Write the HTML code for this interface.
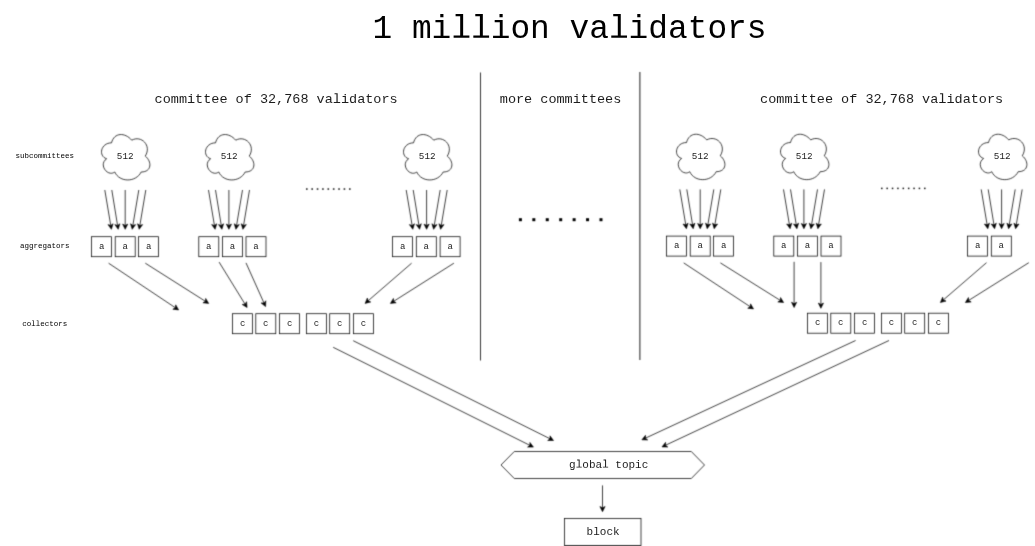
<!DOCTYPE html>
<html><head><meta charset="utf-8"><style>
html,body{margin:0;padding:0;background:#fff;width:1035px;height:546px;overflow:hidden}
svg{display:block;will-change:transform;font-family:"Liberation Mono",monospace}
</style></head><body>
<svg width="1035" height="546" viewBox="0 0 1035 546">
<defs><filter id="soft" x="0" y="0" width="1035" height="546" filterUnits="userSpaceOnUse" color-interpolation-filters="sRGB"><feConvolveMatrix order="3" kernelMatrix="0.0225 0.1050 0.0225 0.1050 0.4900 0.1050 0.0225 0.1050 0.0225" edgeMode="duplicate" preserveAlpha="true"/></filter></defs>
<g filter="url(#soft)">
<rect width="1035" height="546" fill="#fff"/>
<line x1="480.5" y1="72.5" x2="480.5" y2="360.5" stroke="#000" stroke-width="0.8"/>
<line x1="639.9" y1="72" x2="639.9" y2="360" stroke="#000" stroke-width="0.9"/>
<path d="M111.50,142.85C100.70,142.85 98.00,156.10 106.64,158.75C98.00,164.58 107.72,177.30 114.74,172.00C119.60,182.60 135.80,182.60 141.20,172.00C152.00,172.00 152.00,161.40 145.25,156.10C152.00,145.50 141.20,134.90 131.75,140.20C125.00,132.25 114.20,132.25 111.50,142.85Z" fill="none" stroke="#000" stroke-width="0.75"/>
<line x1="104.80" y1="190.00" x2="110.75" y2="225.45" stroke="#000" stroke-width="0.75"/>
<path d="M111.40,229.30L107.97,224.60L110.75,225.45L113.10,223.74Z" fill="#000" stroke="#000" stroke-width="0.6"/>
<line x1="111.80" y1="190.00" x2="117.57" y2="225.45" stroke="#000" stroke-width="0.75"/>
<path d="M118.20,229.30L114.80,224.59L117.57,225.45L119.93,223.75Z" fill="#000" stroke="#000" stroke-width="0.6"/>
<line x1="125.20" y1="190.00" x2="125.20" y2="225.40" stroke="#000" stroke-width="0.75"/>
<path d="M125.20,229.30L122.60,224.10L125.20,225.40L127.80,224.10Z" fill="#000" stroke="#000" stroke-width="0.6"/>
<line x1="138.80" y1="190.00" x2="132.85" y2="225.45" stroke="#000" stroke-width="0.75"/>
<path d="M132.20,229.30L130.50,223.74L132.85,225.45L135.63,224.60Z" fill="#000" stroke="#000" stroke-width="0.6"/>
<line x1="145.80" y1="190.00" x2="139.85" y2="225.45" stroke="#000" stroke-width="0.75"/>
<path d="M139.20,229.30L137.50,223.74L139.85,225.45L142.63,224.60Z" fill="#000" stroke="#000" stroke-width="0.6"/>
<rect x="91.60" y="236.70" width="20" height="20" fill="none" stroke="#000" stroke-width="0.75"/>
<rect x="115.20" y="236.70" width="20" height="20" fill="none" stroke="#000" stroke-width="0.75"/>
<rect x="138.60" y="236.70" width="20" height="20" fill="none" stroke="#000" stroke-width="0.75"/>
<path d="M215.50,142.85C204.70,142.85 202.00,156.10 210.64,158.75C202.00,164.58 211.72,177.30 218.74,172.00C223.60,182.60 239.80,182.60 245.20,172.00C256.00,172.00 256.00,161.40 249.25,156.10C256.00,145.50 245.20,134.90 235.75,140.20C229.00,132.25 218.20,132.25 215.50,142.85Z" fill="none" stroke="#000" stroke-width="0.75"/>
<line x1="208.50" y1="190.00" x2="214.45" y2="225.45" stroke="#000" stroke-width="0.75"/>
<path d="M215.10,229.30L211.67,224.60L214.45,225.45L216.80,223.74Z" fill="#000" stroke="#000" stroke-width="0.6"/>
<line x1="215.50" y1="190.00" x2="221.27" y2="225.45" stroke="#000" stroke-width="0.75"/>
<path d="M221.90,229.30L218.50,224.59L221.27,225.45L223.63,223.75Z" fill="#000" stroke="#000" stroke-width="0.6"/>
<line x1="228.90" y1="190.00" x2="228.90" y2="225.40" stroke="#000" stroke-width="0.75"/>
<path d="M228.90,229.30L226.30,224.10L228.90,225.40L231.50,224.10Z" fill="#000" stroke="#000" stroke-width="0.6"/>
<line x1="242.50" y1="190.00" x2="236.55" y2="225.45" stroke="#000" stroke-width="0.75"/>
<path d="M235.90,229.30L234.20,223.74L236.55,225.45L239.33,224.60Z" fill="#000" stroke="#000" stroke-width="0.6"/>
<line x1="249.50" y1="190.00" x2="243.55" y2="225.45" stroke="#000" stroke-width="0.75"/>
<path d="M242.90,229.30L241.20,223.74L243.55,225.45L246.33,224.60Z" fill="#000" stroke="#000" stroke-width="0.6"/>
<rect x="198.80" y="236.70" width="20" height="20" fill="none" stroke="#000" stroke-width="0.75"/>
<rect x="222.40" y="236.70" width="20" height="20" fill="none" stroke="#000" stroke-width="0.75"/>
<rect x="246.00" y="236.70" width="20" height="20" fill="none" stroke="#000" stroke-width="0.75"/>
<path d="M413.50,142.85C402.70,142.85 400.00,156.10 408.64,158.75C400.00,164.58 409.72,177.30 416.74,172.00C421.60,182.60 437.80,182.60 443.20,172.00C454.00,172.00 454.00,161.40 447.25,156.10C454.00,145.50 443.20,134.90 433.75,140.20C427.00,132.25 416.20,132.25 413.50,142.85Z" fill="none" stroke="#000" stroke-width="0.75"/>
<line x1="406.20" y1="190.00" x2="412.15" y2="225.45" stroke="#000" stroke-width="0.75"/>
<path d="M412.80,229.30L409.37,224.60L412.15,225.45L414.50,223.74Z" fill="#000" stroke="#000" stroke-width="0.6"/>
<line x1="413.20" y1="190.00" x2="418.97" y2="225.45" stroke="#000" stroke-width="0.75"/>
<path d="M419.60,229.30L416.20,224.59L418.97,225.45L421.33,223.75Z" fill="#000" stroke="#000" stroke-width="0.6"/>
<line x1="426.60" y1="190.00" x2="426.60" y2="225.40" stroke="#000" stroke-width="0.75"/>
<path d="M426.60,229.30L424.00,224.10L426.60,225.40L429.20,224.10Z" fill="#000" stroke="#000" stroke-width="0.6"/>
<line x1="440.20" y1="190.00" x2="434.25" y2="225.45" stroke="#000" stroke-width="0.75"/>
<path d="M433.60,229.30L431.90,223.74L434.25,225.45L437.03,224.60Z" fill="#000" stroke="#000" stroke-width="0.6"/>
<line x1="447.20" y1="190.00" x2="441.25" y2="225.45" stroke="#000" stroke-width="0.75"/>
<path d="M440.60,229.30L438.90,223.74L441.25,225.45L444.03,224.60Z" fill="#000" stroke="#000" stroke-width="0.6"/>
<rect x="392.60" y="236.70" width="20" height="20" fill="none" stroke="#000" stroke-width="0.75"/>
<rect x="416.30" y="236.70" width="20" height="20" fill="none" stroke="#000" stroke-width="0.75"/>
<rect x="440.10" y="236.70" width="20" height="20" fill="none" stroke="#000" stroke-width="0.75"/>
<path d="M686.50,142.55C675.70,142.55 673.00,155.80 681.64,158.45C673.00,164.28 682.72,177.00 689.74,171.70C694.60,182.30 710.80,182.30 716.20,171.70C727.00,171.70 727.00,161.10 720.25,155.80C727.00,145.20 716.20,134.60 706.75,139.90C700.00,131.95 689.20,131.95 686.50,142.55Z" fill="none" stroke="#000" stroke-width="0.75"/>
<line x1="679.80" y1="189.40" x2="685.75" y2="224.85" stroke="#000" stroke-width="0.75"/>
<path d="M686.40,228.70L682.97,224.00L685.75,224.85L688.10,223.14Z" fill="#000" stroke="#000" stroke-width="0.6"/>
<line x1="686.80" y1="189.40" x2="692.57" y2="224.85" stroke="#000" stroke-width="0.75"/>
<path d="M693.20,228.70L689.80,223.99L692.57,224.85L694.93,223.15Z" fill="#000" stroke="#000" stroke-width="0.6"/>
<line x1="700.20" y1="189.40" x2="700.20" y2="224.80" stroke="#000" stroke-width="0.75"/>
<path d="M700.20,228.70L697.60,223.50L700.20,224.80L702.80,223.50Z" fill="#000" stroke="#000" stroke-width="0.6"/>
<line x1="713.80" y1="189.40" x2="707.85" y2="224.85" stroke="#000" stroke-width="0.75"/>
<path d="M707.20,228.70L705.50,223.14L707.85,224.85L710.63,224.00Z" fill="#000" stroke="#000" stroke-width="0.6"/>
<line x1="720.80" y1="189.40" x2="714.85" y2="224.85" stroke="#000" stroke-width="0.75"/>
<path d="M714.20,228.70L712.50,223.14L714.85,224.85L717.63,224.00Z" fill="#000" stroke="#000" stroke-width="0.6"/>
<rect x="666.60" y="236.10" width="20" height="20" fill="none" stroke="#000" stroke-width="0.75"/>
<rect x="690.20" y="236.10" width="20" height="20" fill="none" stroke="#000" stroke-width="0.75"/>
<rect x="713.60" y="236.10" width="20" height="20" fill="none" stroke="#000" stroke-width="0.75"/>
<path d="M790.50,142.55C779.70,142.55 777.00,155.80 785.64,158.45C777.00,164.28 786.72,177.00 793.74,171.70C798.60,182.30 814.80,182.30 820.20,171.70C831.00,171.70 831.00,161.10 824.25,155.80C831.00,145.20 820.20,134.60 810.75,139.90C804.00,131.95 793.20,131.95 790.50,142.55Z" fill="none" stroke="#000" stroke-width="0.75"/>
<line x1="783.50" y1="189.40" x2="789.45" y2="224.85" stroke="#000" stroke-width="0.75"/>
<path d="M790.10,228.70L786.67,224.00L789.45,224.85L791.80,223.14Z" fill="#000" stroke="#000" stroke-width="0.6"/>
<line x1="790.50" y1="189.40" x2="796.27" y2="224.85" stroke="#000" stroke-width="0.75"/>
<path d="M796.90,228.70L793.50,223.99L796.27,224.85L798.63,223.15Z" fill="#000" stroke="#000" stroke-width="0.6"/>
<line x1="803.90" y1="189.40" x2="803.90" y2="224.80" stroke="#000" stroke-width="0.75"/>
<path d="M803.90,228.70L801.30,223.50L803.90,224.80L806.50,223.50Z" fill="#000" stroke="#000" stroke-width="0.6"/>
<line x1="817.50" y1="189.40" x2="811.55" y2="224.85" stroke="#000" stroke-width="0.75"/>
<path d="M810.90,228.70L809.20,223.14L811.55,224.85L814.33,224.00Z" fill="#000" stroke="#000" stroke-width="0.6"/>
<line x1="824.50" y1="189.40" x2="818.55" y2="224.85" stroke="#000" stroke-width="0.75"/>
<path d="M817.90,228.70L816.20,223.14L818.55,224.85L821.33,224.00Z" fill="#000" stroke="#000" stroke-width="0.6"/>
<rect x="773.80" y="236.10" width="20" height="20" fill="none" stroke="#000" stroke-width="0.75"/>
<rect x="797.40" y="236.10" width="20" height="20" fill="none" stroke="#000" stroke-width="0.75"/>
<rect x="821.00" y="236.10" width="20" height="20" fill="none" stroke="#000" stroke-width="0.75"/>
<path d="M988.50,142.55C977.70,142.55 975.00,155.80 983.64,158.45C975.00,164.28 984.72,177.00 991.74,171.70C996.60,182.30 1012.80,182.30 1018.20,171.70C1029.00,171.70 1029.00,161.10 1022.25,155.80C1029.00,145.20 1018.20,134.60 1008.75,139.90C1002.00,131.95 991.20,131.95 988.50,142.55Z" fill="none" stroke="#000" stroke-width="0.75"/>
<line x1="981.20" y1="189.40" x2="987.15" y2="224.85" stroke="#000" stroke-width="0.75"/>
<path d="M987.80,228.70L984.37,224.00L987.15,224.85L989.50,223.14Z" fill="#000" stroke="#000" stroke-width="0.6"/>
<line x1="988.20" y1="189.40" x2="993.97" y2="224.85" stroke="#000" stroke-width="0.75"/>
<path d="M994.60,228.70L991.20,223.99L993.97,224.85L996.33,223.15Z" fill="#000" stroke="#000" stroke-width="0.6"/>
<line x1="1001.60" y1="189.40" x2="1001.60" y2="224.80" stroke="#000" stroke-width="0.75"/>
<path d="M1001.60,228.70L999.00,223.50L1001.60,224.80L1004.20,223.50Z" fill="#000" stroke="#000" stroke-width="0.6"/>
<line x1="1015.20" y1="189.40" x2="1009.25" y2="224.85" stroke="#000" stroke-width="0.75"/>
<path d="M1008.60,228.70L1006.90,223.14L1009.25,224.85L1012.03,224.00Z" fill="#000" stroke="#000" stroke-width="0.6"/>
<line x1="1022.20" y1="189.40" x2="1016.25" y2="224.85" stroke="#000" stroke-width="0.75"/>
<path d="M1015.60,228.70L1013.90,223.14L1016.25,224.85L1019.03,224.00Z" fill="#000" stroke="#000" stroke-width="0.6"/>
<rect x="967.60" y="236.10" width="20" height="20" fill="none" stroke="#000" stroke-width="0.75"/>
<rect x="991.30" y="236.10" width="20" height="20" fill="none" stroke="#000" stroke-width="0.75"/>
<rect x="306.00" y="188.25" width="1.6" height="1.6" fill="#222"/>
<rect x="311.38" y="188.25" width="1.6" height="1.6" fill="#222"/>
<rect x="316.75" y="188.25" width="1.6" height="1.6" fill="#222"/>
<rect x="322.12" y="188.25" width="1.6" height="1.6" fill="#222"/>
<rect x="327.50" y="188.25" width="1.6" height="1.6" fill="#222"/>
<rect x="332.88" y="188.25" width="1.6" height="1.6" fill="#222"/>
<rect x="338.25" y="188.25" width="1.6" height="1.6" fill="#222"/>
<rect x="343.62" y="188.25" width="1.6" height="1.6" fill="#222"/>
<rect x="349.00" y="188.25" width="1.6" height="1.6" fill="#222"/>
<rect x="881.05" y="187.65" width="1.5" height="1.5" fill="#111"/>
<rect x="886.42" y="187.65" width="1.5" height="1.5" fill="#111"/>
<rect x="891.80" y="187.65" width="1.5" height="1.5" fill="#111"/>
<rect x="897.17" y="187.65" width="1.5" height="1.5" fill="#111"/>
<rect x="902.55" y="187.65" width="1.5" height="1.5" fill="#111"/>
<rect x="907.92" y="187.65" width="1.5" height="1.5" fill="#111"/>
<rect x="913.30" y="187.65" width="1.5" height="1.5" fill="#111"/>
<rect x="918.67" y="187.65" width="1.5" height="1.5" fill="#111"/>
<rect x="924.05" y="187.65" width="1.5" height="1.5" fill="#111"/>
<rect x="518.90" y="218.20" width="3" height="3" fill="#000"/>
<rect x="532.33" y="218.20" width="3" height="3" fill="#000"/>
<rect x="545.76" y="218.20" width="3" height="3" fill="#000"/>
<rect x="559.19" y="218.20" width="3" height="3" fill="#000"/>
<rect x="572.62" y="218.20" width="3" height="3" fill="#000"/>
<rect x="586.05" y="218.20" width="3" height="3" fill="#000"/>
<rect x="599.48" y="218.20" width="3" height="3" fill="#000"/>
<line x1="108.60" y1="263.20" x2="175.36" y2="307.74" stroke="#000" stroke-width="0.75"/>
<path d="M178.60,309.90L172.83,309.18L175.36,307.74L175.72,304.85Z" fill="#000" stroke="#000" stroke-width="0.6"/>
<line x1="145.30" y1="263.20" x2="205.41" y2="301.31" stroke="#000" stroke-width="0.75"/>
<path d="M208.70,303.40L202.92,302.81L205.41,301.31L205.70,298.42Z" fill="#000" stroke="#000" stroke-width="0.6"/>
<line x1="219.10" y1="262.10" x2="245.05" y2="304.18" stroke="#000" stroke-width="0.75"/>
<path d="M247.10,307.50L242.16,304.44L245.05,304.18L246.58,301.71Z" fill="#000" stroke="#000" stroke-width="0.6"/>
<line x1="246.00" y1="262.90" x2="264.00" y2="303.04" stroke="#000" stroke-width="0.75"/>
<path d="M265.60,306.60L261.10,302.92L264.00,303.04L265.84,300.79Z" fill="#000" stroke="#000" stroke-width="0.6"/>
<line x1="411.60" y1="263.20" x2="368.05" y2="300.85" stroke="#000" stroke-width="0.75"/>
<path d="M365.10,303.40L367.33,298.03L368.05,300.85L370.73,301.97Z" fill="#000" stroke="#000" stroke-width="0.6"/>
<line x1="453.90" y1="263.20" x2="393.70" y2="301.31" stroke="#000" stroke-width="0.75"/>
<path d="M390.40,303.40L393.40,298.42L393.70,301.31L396.18,302.82Z" fill="#000" stroke="#000" stroke-width="0.6"/>
<line x1="683.70" y1="262.90" x2="750.24" y2="306.75" stroke="#000" stroke-width="0.75"/>
<path d="M753.50,308.90L747.73,308.21L750.24,306.75L750.59,303.87Z" fill="#000" stroke="#000" stroke-width="0.6"/>
<line x1="720.40" y1="262.90" x2="780.30" y2="300.43" stroke="#000" stroke-width="0.75"/>
<path d="M783.60,302.50L777.81,301.94L780.30,300.43L780.57,297.54Z" fill="#000" stroke="#000" stroke-width="0.6"/>
<line x1="794.10" y1="261.80" x2="794.10" y2="303.60" stroke="#000" stroke-width="0.75"/>
<path d="M794.10,307.50L791.50,302.30L794.10,303.60L796.70,302.30Z" fill="#000" stroke="#000" stroke-width="0.6"/>
<line x1="820.90" y1="262.10" x2="820.90" y2="304.40" stroke="#000" stroke-width="0.75"/>
<path d="M820.90,308.30L818.30,303.10L820.90,304.40L823.50,303.10Z" fill="#000" stroke="#000" stroke-width="0.6"/>
<line x1="986.50" y1="262.70" x2="943.35" y2="299.95" stroke="#000" stroke-width="0.75"/>
<path d="M940.40,302.50L942.64,297.13L943.35,299.95L946.04,301.07Z" fill="#000" stroke="#000" stroke-width="0.6"/>
<line x1="1028.80" y1="262.70" x2="968.70" y2="300.43" stroke="#000" stroke-width="0.75"/>
<path d="M965.40,302.50L968.42,297.53L968.70,300.43L971.19,301.94Z" fill="#000" stroke="#000" stroke-width="0.6"/>
<rect x="232.60" y="313.70" width="20" height="20" fill="none" stroke="#000" stroke-width="0.75"/>
<rect x="255.80" y="313.70" width="20" height="20" fill="none" stroke="#000" stroke-width="0.75"/>
<rect x="279.60" y="313.70" width="20" height="20" fill="none" stroke="#000" stroke-width="0.75"/>
<rect x="306.50" y="313.70" width="20" height="20" fill="none" stroke="#000" stroke-width="0.75"/>
<rect x="329.70" y="313.70" width="20" height="20" fill="none" stroke="#000" stroke-width="0.75"/>
<rect x="353.40" y="313.70" width="20" height="20" fill="none" stroke="#000" stroke-width="0.75"/>
<rect x="807.60" y="313.20" width="20" height="20" fill="none" stroke="#000" stroke-width="0.75"/>
<rect x="830.80" y="313.20" width="20" height="20" fill="none" stroke="#000" stroke-width="0.75"/>
<rect x="854.60" y="313.20" width="20" height="20" fill="none" stroke="#000" stroke-width="0.75"/>
<rect x="881.50" y="313.20" width="20" height="20" fill="none" stroke="#000" stroke-width="0.75"/>
<rect x="904.70" y="313.20" width="20" height="20" fill="none" stroke="#000" stroke-width="0.75"/>
<rect x="928.40" y="313.20" width="20" height="20" fill="none" stroke="#000" stroke-width="0.75"/>
<line x1="333.20" y1="347.30" x2="529.91" y2="445.36" stroke="#000" stroke-width="0.75"/>
<path d="M533.40,447.10L527.59,447.11L529.91,445.36L529.91,442.45Z" fill="#000" stroke="#000" stroke-width="0.6"/>
<line x1="353.20" y1="340.70" x2="550.01" y2="438.76" stroke="#000" stroke-width="0.75"/>
<path d="M553.50,440.50L547.69,440.51L550.01,438.76L550.01,435.85Z" fill="#000" stroke="#000" stroke-width="0.6"/>
<line x1="855.60" y1="340.50" x2="645.44" y2="438.16" stroke="#000" stroke-width="0.75"/>
<path d="M641.90,439.80L645.52,435.25L645.44,438.16L647.71,439.97Z" fill="#000" stroke="#000" stroke-width="0.6"/>
<line x1="889.00" y1="340.50" x2="665.53" y2="445.24" stroke="#000" stroke-width="0.75"/>
<path d="M662.00,446.90L665.60,442.34L665.53,445.24L667.81,447.05Z" fill="#000" stroke="#000" stroke-width="0.6"/>
<path d="M501,465L514.3,451.5L691.3,451.5L704.5,465L691.3,478.5L514.3,478.5Z" fill="none" stroke="#000" stroke-width="0.75"/>
<line x1="602.50" y1="485.40" x2="602.50" y2="507.80" stroke="#000" stroke-width="0.75"/>
<path d="M602.50,511.70L599.90,506.50L602.50,507.80L605.10,506.50Z" fill="#000" stroke="#000" stroke-width="0.6"/>
<rect x="564.5" y="518.6" width="76.5" height="26.9" fill="none" stroke="#000" stroke-width="0.75"/>
</g>
<g>
<text x="372.50" y="37.70" font-size="32.84" fill="#000"  xml:space="preserve">1 mi  ion va idators</text>
<path d="M455.59,13.89L463.14,13.89L463.14,35.40L469.38,35.40L469.38,37.70L453.61,37.70L453.61,35.40L460.18,35.40L460.18,16.19L455.59,16.19Z" fill="#000"/>
<path d="M475.29,13.89L482.84,13.89L482.84,35.40L489.08,35.40L489.08,37.70L473.32,37.70L473.32,35.40L479.89,35.40L479.89,16.19L475.29,16.19Z" fill="#000"/>
<path d="M613.22,13.89L620.77,13.89L620.77,35.40L627.01,35.40L627.01,37.70L611.25,37.70L611.25,35.40L617.81,35.40L617.81,16.19L613.22,16.19Z" fill="#000"/>
<text x="154.60" y="103.00" font-size="13.5" fill="#1c1c1c"  xml:space="preserve">committee of 32,768 va idators</text>
<path d="M334.55,93.21L337.66,93.21L337.66,102.06L340.22,102.06L340.22,103.00L333.74,103.00L333.74,102.06L336.44,102.06L336.44,94.16L334.55,94.16Z" fill="#1c1c1c"/>
<text x="499.80" y="103.00" font-size="13.5" fill="#1c1c1c" >more committees</text>
<text x="760.10" y="103.00" font-size="13.5" fill="#1c1c1c"  xml:space="preserve">committee of 32,768 va idators</text>
<path d="M940.05,93.21L943.16,93.21L943.16,102.06L945.72,102.06L945.72,103.00L939.25,103.00L939.25,102.06L941.94,102.06L941.94,94.16L940.05,94.16Z" fill="#1c1c1c"/>
<text x="15.45" y="158.00" font-size="7.5" fill="#000" >subcommittees</text>
<text x="19.95" y="248.00" font-size="7.5" fill="#000" >aggregators</text>
<text x="22.20" y="326.00" font-size="7.5" fill="#000"  xml:space="preserve">co  ectors</text>
<path d="M32.18,320.56L33.90,320.56L33.90,325.48L35.33,325.48L35.33,326.00L31.73,326.00L31.73,325.48L33.23,325.48L33.23,321.09L32.18,321.09Z" fill="#000"/>
<path d="M36.68,320.56L38.40,320.56L38.40,325.48L39.83,325.48L39.83,326.00L36.23,326.00L36.23,325.48L37.73,325.48L37.73,321.09L36.68,321.09Z" fill="#000"/>
<text x="116.83" y="158.80" font-size="9.3" fill="#1c1c1c" >512</text>
<text x="98.90" y="249.00" font-size="9" fill="#1c1c1c" >a</text>
<text x="122.50" y="249.00" font-size="9" fill="#1c1c1c" >a</text>
<text x="145.90" y="249.00" font-size="9" fill="#1c1c1c" >a</text>
<text x="220.83" y="158.80" font-size="9.3" fill="#1c1c1c" >512</text>
<text x="206.10" y="249.00" font-size="9" fill="#1c1c1c" >a</text>
<text x="229.70" y="249.00" font-size="9" fill="#1c1c1c" >a</text>
<text x="253.30" y="249.00" font-size="9" fill="#1c1c1c" >a</text>
<text x="418.83" y="158.80" font-size="9.3" fill="#1c1c1c" >512</text>
<text x="399.90" y="249.00" font-size="9" fill="#1c1c1c" >a</text>
<text x="423.60" y="249.00" font-size="9" fill="#1c1c1c" >a</text>
<text x="447.40" y="249.00" font-size="9" fill="#1c1c1c" >a</text>
<text x="691.83" y="158.50" font-size="9.3" fill="#1c1c1c" >512</text>
<text x="673.90" y="248.40" font-size="9" fill="#1c1c1c" >a</text>
<text x="697.50" y="248.40" font-size="9" fill="#1c1c1c" >a</text>
<text x="720.90" y="248.40" font-size="9" fill="#1c1c1c" >a</text>
<text x="795.83" y="158.50" font-size="9.3" fill="#1c1c1c" >512</text>
<text x="781.10" y="248.40" font-size="9" fill="#1c1c1c" >a</text>
<text x="804.70" y="248.40" font-size="9" fill="#1c1c1c" >a</text>
<text x="828.30" y="248.40" font-size="9" fill="#1c1c1c" >a</text>
<text x="993.83" y="158.50" font-size="9.3" fill="#1c1c1c" >512</text>
<text x="974.90" y="248.40" font-size="9" fill="#1c1c1c" >a</text>
<text x="998.60" y="248.40" font-size="9" fill="#1c1c1c" >a</text>
<text x="239.90" y="325.70" font-size="9" fill="#1c1c1c" >c</text>
<text x="263.10" y="325.70" font-size="9" fill="#1c1c1c" >c</text>
<text x="286.90" y="325.70" font-size="9" fill="#1c1c1c" >c</text>
<text x="313.80" y="325.70" font-size="9" fill="#1c1c1c" >c</text>
<text x="337.00" y="325.70" font-size="9" fill="#1c1c1c" >c</text>
<text x="360.70" y="325.70" font-size="9" fill="#1c1c1c" >c</text>
<text x="814.90" y="325.20" font-size="9" fill="#1c1c1c" >c</text>
<text x="838.10" y="325.20" font-size="9" fill="#1c1c1c" >c</text>
<text x="861.90" y="325.20" font-size="9" fill="#1c1c1c" >c</text>
<text x="888.80" y="325.20" font-size="9" fill="#1c1c1c" >c</text>
<text x="912.00" y="325.20" font-size="9" fill="#1c1c1c" >c</text>
<text x="935.70" y="325.20" font-size="9" fill="#1c1c1c" >c</text>
<text x="569.10" y="467.60" font-size="11" fill="#1c1c1c"  xml:space="preserve">g oba  topic</text>
<path d="M577.13,459.62L579.66,459.62L579.66,466.83L581.75,466.83L581.75,467.60L576.47,467.60L576.47,466.83L578.67,466.83L578.67,460.40L577.13,460.40Z" fill="#1c1c1c"/>
<path d="M603.53,459.62L606.06,459.62L606.06,466.83L608.15,466.83L608.15,467.60L602.87,467.60L602.87,466.83L605.07,466.83L605.07,460.40L603.53,460.40Z" fill="#1c1c1c"/>
<text x="586.60" y="535.00" font-size="11" fill="#1c1c1c"  xml:space="preserve">b ock</text>
<path d="M594.63,527.02L597.16,527.02L597.16,534.23L599.25,534.23L599.25,535.00L593.97,535.00L593.97,534.23L596.17,534.23L596.17,527.79L594.63,527.79Z" fill="#1c1c1c"/>
</g>
</svg></body></html>
